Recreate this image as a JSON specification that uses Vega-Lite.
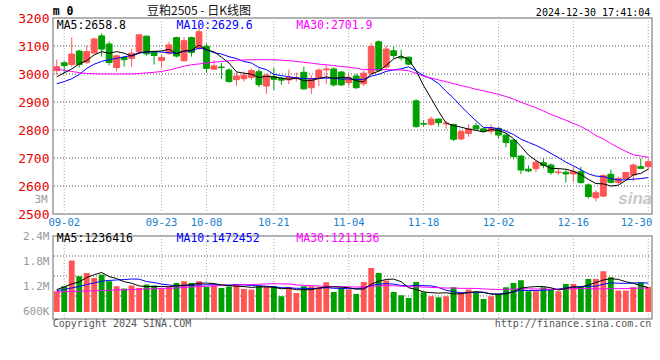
{
  "$schema": "https://vega.github.io/schema/vega-lite/v6.json",
  "autosize": {"type": "pad"},
  "padding": {"left": 16, "top": 4, "right": 0, "bottom": 0},
  "background": "white",
  "bounds": "flush",
  "spacing": 22,
  "config": {"view": {"stroke": "#9a9a9a", "strokeWidth": 1.5}, "font": "DejaVu Sans Mono", "axis": {"labelOverlap": false, "labelFlush": false}},
  "resolve": {"scale": {"x": "independent", "y": "independent"}},
  "datasets": {
    "k": [
      {"d":"08-30","o":3012,"h":3052,"l":2997,"c":3026,"v":1091000,"m5":2990,"m10":2965,"m30":3017,"vm5":1131000,"vm10":1107000,"vm30":1074000},
      {"d":"09-02","o":3040,"h":3046,"l":3002,"c":3030,"v":1209000,"m5":3004,"m10":2973,"m30":3013,"vm5":1193000,"vm10":1133000,"vm30":1079000},
      {"d":"09-03","o":3034,"h":3131,"l":3026,"c":3071,"v":1818000,"m5":3018,"m10":2983,"m30":3009,"vm5":1264000,"vm10":1169000,"vm30":1086000},
      {"d":"09-04","o":3082,"h":3086,"l":3023,"c":3034,"v":1446000,"m5":3036,"m10":2998,"m30":3005,"vm5":1311000,"vm10":1204000,"vm30":1091000},
      {"d":"09-05","o":3042,"h":3102,"l":3036,"c":3080,"v":1524000,"m5":3048.2,"m10":3020,"m30":3002,"vm5":1418000,"vm10":1249000,"vm30":1098000},
      {"d":"09-06","o":3075,"h":3130,"l":3072,"c":3125,"v":1406000,"m5":3068,"m10":3035,"m30":3001,"vm5":1481000,"vm10":1287000,"vm30":1102000},
      {"d":"09-09","o":3136,"h":3146,"l":3062,"c":3089,"v":1486000,"m5":3079.8,"m10":3045,"m30":3000,"vm5":1536000,"vm10":1328000,"vm30":1107000},
      {"d":"09-10","o":3107,"h":3117,"l":3031,"c":3041,"v":1328000,"m5":3073.8,"m10":3051,"m30":3000,"vm5":1438000,"vm10":1347000,"vm30":1114000},
      {"d":"09-11","o":3023,"h":3069,"l":3010,"c":3065,"v":1209000,"m5":3080,"m10":3056,"m30":3000,"vm5":1391000,"vm10":1358000,"vm30":1121000},
      {"d":"09-12","o":3059,"h":3064,"l":3026,"c":3051,"v":1155000,"m5":3074.2,"m10":3061.2,"m30":3000,"vm5":1317000,"vm10":1367000,"vm30":1126000},
      {"d":"09-13","o":3056,"h":3089,"l":3026,"c":3074,"v":1226000,"m5":3064,"m10":3066,"m30":3000,"vm5":1281000,"vm10":1381000,"vm30":1131000},
      {"d":"09-18","o":3080,"h":3142,"l":3077,"c":3140,"v":1169000,"m5":3074.2,"m10":3077,"m30":3002,"vm5":1217000,"vm10":1377000,"vm30":1138000},
      {"d":"09-19","o":3135,"h":3137,"l":3065,"c":3072,"v":1249000,"m5":3080.4,"m10":3077.1,"m30":3004,"vm5":1202000,"vm10":1320000,"vm30":1145000},
      {"d":"09-20","o":3080,"h":3083,"l":3034,"c":3066,"v":1226000,"m5":3080.6,"m10":3080.3,"m30":3006,"vm5":1205000,"vm10":1298000,"vm30":1150000},
      {"d":"09-23","o":3048,"h":3068,"l":3022,"c":3059,"v":1155000,"m5":3082.2,"m10":3078.2,"m30":3009,"vm5":1205000,"vm10":1261000,"vm30":1157000},
      {"d":"09-24","o":3074,"h":3115,"l":3068,"c":3104,"v":1185000,"m5":3088.2,"m10":3076.1,"m30":3014,"vm5":1197000,"vm10":1239000,"vm30":1162000},
      {"d":"09-25","o":3130,"h":3133,"l":3059,"c":3064,"v":1287000,"m5":3073,"m10":3073.6,"m30":3021,"vm5":1220000,"vm10":1219000,"vm30":1169000},
      {"d":"09-26","o":3047,"h":3131,"l":3045,"c":3119,"v":1328000,"m5":3082.4,"m10":3081.4,"m30":3028,"vm5":1236000,"vm10":1219000,"vm30":1181000},
      {"d":"09-27","o":3130,"h":3133,"l":3062,"c":3077,"v":1287000,"m5":3084.6,"m10":3082.6,"m30":3033,"vm5":1248000,"vm10":1227000,"vm30":1193000},
      {"d":"09-30","o":3092,"h":3175,"l":3086,"c":3151,"v":1328000,"m5":3103,"m10":3092.6,"m30":3036,"vm5":1283000,"vm10":1244000,"vm30":1200000},
      {"d":"10-08","o":3099,"h":3109,"l":3005,"c":3020,"v":1193000,"m5":3086.2,"m10":3087.2,"m30":3039,"vm5":1284000,"vm10":1241000,"vm30":1209000},
      {"d":"10-09","o":3017,"h":3050,"l":3016,"c":3029,"v":1226000,"m5":3079.2,"m10":3076.1,"m30":3042,"vm5":1272000,"vm10":1246000,"vm30":1216000},
      {"d":"10-10","o":3025,"h":3040,"l":2982,"c":3023,"v":1169000,"m5":3060,"m10":3071.2,"m30":3045,"vm5":1240000,"vm10":1238000,"vm30":1226000},
      {"d":"10-11","o":3014,"h":3020,"l":2969,"c":2973,"v":1202000,"m5":3039.2,"m10":3061.9,"m30":3047,"vm5":1223000,"vm10":1236000,"vm30":1233000},
      {"d":"10-14","o":2980,"h":3006,"l":2958,"c":2993,"v":1264000,"m5":3007.6,"m10":3055.3,"m30":3049,"vm5":1211000,"vm10":1247000,"vm30":1240000},
      {"d":"10-15","o":2983,"h":3009,"l":2973,"c":2996,"v":1145000,"m5":3002.8,"m10":3044.5,"m30":3050,"vm5":1201000,"vm10":1243000,"vm30":1245000},
      {"d":"10-16","o":2988,"h":3020,"l":2979,"c":3012,"v":1131000,"m5":2999.4,"m10":3039.3,"m30":3051,"vm5":1182000,"vm10":1227000,"vm30":1252000},
      {"d":"10-17","o":3008,"h":3019,"l":2953,"c":2962,"v":1226000,"m5":2987.2,"m10":3023.6,"m30":3051,"vm5":1193000,"vm10":1217000,"vm30":1256000},
      {"d":"10-18","o":2957,"h":3002,"l":2929,"c":2996,"v":1209000,"m5":2991.8,"m10":3015.5,"m30":3051,"vm5":1195000,"vm10":1209000,"vm30":1264000},
      {"d":"10-21","o":2990,"h":3022,"l":2943,"c":2981,"v":1209000,"m5":2989.4,"m10":2998.5,"m30":3050.8,"vm5":1184000,"vm10":1197000,"vm30":1270000},
      {"d":"10-22","o":2984,"h":2990,"l":2961,"c":2978,"v":972000,"m5":2985.8,"m10":2994.3,"m30":3049.2,"vm5":1149000,"vm10":1175000,"vm30":1265000},
      {"d":"10-23","o":2979,"h":3016,"l":2964,"c":2988,"v":1193000,"m5":2981,"m10":2990.2,"m30":3047.8,"vm5":1162000,"vm10":1172000,"vm30":1265000},
      {"d":"10-24","o":2983,"h":3005,"l":2973,"c":2986,"v":1050000,"m5":2985.8,"m10":2986.5,"m30":3044.9,"vm5":1127000,"vm10":1160000,"vm30":1239000},
      {"d":"10-25","o":3006,"h":3026,"l":2943,"c":2947,"v":1209000,"m5":2976,"m10":2983.9,"m30":3042,"vm5":1127000,"vm10":1161000,"vm30":1231000},
      {"d":"10-28","o":2951,"h":2996,"l":2929,"c":2984,"v":1209000,"m5":2976.6,"m10":2983,"m30":3038.8,"vm5":1127000,"vm10":1155000,"vm30":1221000},
      {"d":"10-29","o":2984,"h":3020,"l":2957,"c":3014,"v":1185000,"m5":2983.8,"m10":2984.8,"m30":3035.1,"vm5":1169000,"vm10":1159000,"vm30":1214000},
      {"d":"10-30","o":3015,"h":3032,"l":2964,"c":3018,"v":1304000,"m5":2989.8,"m10":2985.4,"m30":3032.8,"vm5":1192000,"vm10":1177000,"vm30":1207000},
      {"d":"10-31","o":3018,"h":3024,"l":2955,"c":2961,"v":1074000,"m5":2984.8,"m10":2985.3,"m30":3030.1,"vm5":1196000,"vm10":1161000,"vm30":1199000},
      {"d":"11-01","o":3007,"h":3011,"l":2957,"c":2961,"v":1169000,"m5":2987.6,"m10":2981.8,"m30":3026.6,"vm5":1188000,"vm10":1157000,"vm30":1198000},
      {"d":"11-04","o":2969,"h":3002,"l":2955,"c":2986,"v":1131000,"m5":2988,"m10":2982.3,"m30":3024.5,"vm5":1173000,"vm10":1150000,"vm30":1197000},
      {"d":"11-05","o":2993,"h":3000,"l":2946,"c":2951,"v":1027000,"m5":2975.4,"m10":2979.6,"m30":3020.4,"vm5":1141000,"vm10":1155000,"vm30":1190000},
      {"d":"11-06","o":2965,"h":3012,"l":2958,"c":3003,"v":1311000,"m5":2972.4,"m10":2981.1,"m30":3015.8,"vm5":1142000,"vm10":1167000,"vm30":1195000},
      {"d":"11-07","o":3003,"h":3110,"l":3000,"c":3098,"v":1643000,"m5":2999.8,"m10":2992.3,"m30":3016.7,"vm5":1256000,"vm10":1226000,"vm30":1208000},
      {"d":"11-08","o":3115,"h":3120,"l":3008,"c":3012,"v":1524000,"m5":3010,"m10":2998.8,"m30":3014.9,"vm5":1327000,"vm10":1258000,"vm30":1218000},
      {"d":"11-11","o":3025,"h":3100,"l":3018,"c":3089,"v":1344000,"m5":3030.6,"m10":3009.3,"m30":3015.9,"vm5":1370000,"vm10":1271000,"vm30":1225000},
      {"d":"11-12","o":3083,"h":3098,"l":3055,"c":3066,"v":1074000,"m5":3053.6,"m10":3014.5,"m30":3014.6,"vm5":1379000,"vm10":1260000,"vm30":1221000},
      {"d":"11-13","o":3059,"h":3087,"l":3048,"c":3057,"v":996000,"m5":3064.4,"m10":3018.4,"m30":3014.4,"vm5":1316000,"vm10":1229000,"vm30":1211000},
      {"d":"11-14","o":3060,"h":3062,"l":3032,"c":3035,"v":932000,"m5":3051.8,"m10":3025.8,"m30":3011.6,"vm5":1174000,"vm10":1215000,"vm30":1198000},
      {"d":"11-15","o":2904,"h":2910,"l":2808,"c":2812,"v":1311000,"m5":3011.8,"m10":3010.9,"m30":3002.7,"vm5":1131000,"vm10":1229000,"vm30":1199000},
      {"d":"11-18","o":2823,"h":2836,"l":2812,"c":2821,"v":1067000,"m5":2958.2,"m10":2994.4,"m30":2991.7,"vm5":1076000,"vm10":1223000,"vm30":1190000},
      {"d":"11-19","o":2820,"h":2848,"l":2815,"c":2839,"v":972000,"m5":2912.8,"m10":2983.2,"m30":2985.7,"vm5":1056000,"vm10":1217000,"vm30":1183000},
      {"d":"11-20","o":2839,"h":2842,"l":2812,"c":2826,"v":948000,"m5":2866.6,"m10":2965.5,"m30":2978.9,"vm5":1046000,"vm10":1181000,"vm30":1173000},
      {"d":"11-21","o":2822,"h":2833,"l":2804,"c":2825,"v":972000,"m5":2824.6,"m10":2938.2,"m30":2972.3,"vm5":1054000,"vm10":1114000,"vm30":1167000},
      {"d":"11-22","o":2820,"h":2822,"l":2760,"c":2767,"v":1185000,"m5":2815.6,"m10":2913.7,"m30":2965.5,"vm5":1029000,"vm10":1080000,"vm30":1166000},
      {"d":"11-25","o":2768,"h":2800,"l":2764,"c":2794,"v":1067000,"m5":2810.2,"m10":2884.2,"m30":2958.8,"vm5":1029000,"vm10":1052000,"vm30":1160000},
      {"d":"11-26","o":2788,"h":2821,"l":2776,"c":2804,"v":1131000,"m5":2803.2,"m10":2858,"m30":2952.4,"vm5":1061000,"vm10":1058000,"vm30":1159000},
      {"d":"11-27","o":2815,"h":2826,"l":2802,"c":2804,"v":1050000,"m5":2798.8,"m10":2832.7,"m30":2945.5,"vm5":1081000,"vm10":1064000,"vm30":1157000},
      {"d":"11-28","o":2804,"h":2806,"l":2794,"c":2796,"v":908000,"m5":2793,"m10":2808.8,"m30":2940,"vm5":1068000,"vm10":1061000,"vm30":1146000},
      {"d":"11-29","o":2796,"h":2820,"l":2785,"c":2808,"v":972000,"m5":2801.2,"m10":2808.4,"m30":2933.7,"vm5":1026000,"vm10":1027000,"vm30":1138000},
      {"d":"12-02","o":2806,"h":2810,"l":2770,"c":2782,"v":1027000,"m5":2798.8,"m10":2804.5,"m30":2927.1,"vm5":1018000,"vm10":1023000,"vm30":1132000},
      {"d":"12-03","o":2782,"h":2788,"l":2738,"c":2755,"v":1185000,"m5":2789,"m10":2796.1,"m30":2919.6,"vm5":1029000,"vm10":1045000,"vm30":1139000},
      {"d":"12-04","o":2764,"h":2767,"l":2695,"c":2705,"v":1287000,"m5":2769.2,"m10":2784,"m30":2910.2,"vm5":1076000,"vm10":1079000,"vm30":1142000},
      {"d":"12-05","o":2707,"h":2710,"l":2643,"c":2657,"v":1351000,"m5":2741.4,"m10":2767.2,"m30":2899.2,"vm5":1165000,"vm10":1116000,"vm30":1152000},
      {"d":"12-06","o":2660,"h":2673,"l":2649,"c":2654,"v":1091000,"m5":2710.6,"m10":2755.9,"m30":2889.5,"vm5":1188000,"vm10":1107000,"vm30":1148000},
      {"d":"12-09","o":2662,"h":2693,"l":2649,"c":2685,"v":1091000,"m5":2691.2,"m10":2745,"m30":2879.5,"vm5":1201000,"vm10":1109000,"vm30":1144000},
      {"d":"12-10","o":2683,"h":2698,"l":2663,"c":2673,"v":1185000,"m5":2674.8,"m10":2731.9,"m30":2868.1,"vm5":1201000,"vm10":1115000,"vm30":1144000},
      {"d":"12-11","o":2675,"h":2680,"l":2640,"c":2648,"v":1145000,"m5":2663.4,"m10":2716.3,"m30":2855.8,"vm5":1173000,"vm10":1124000,"vm30":1139000},
      {"d":"12-12","o":2648,"h":2663,"l":2640,"c":2650,"v":1091000,"m5":2662,"m10":2701.7,"m30":2845.4,"vm5":1120000,"vm10":1143000,"vm30":1140000},
      {"d":"12-13","o":2649,"h":2657,"l":2612,"c":2643,"v":1264000,"m5":2659.8,"m10":2685.2,"m30":2834.8,"vm5":1155000,"vm10":1172000,"vm30":1143000},
      {"d":"12-16","o":2643,"h":2669,"l":2615,"c":2651,"v":1264000,"m5":2653,"m10":2672.1,"m30":2823.7,"vm5":1190000,"vm10":1195000,"vm30":1147000},
      {"d":"12-17","o":2651,"h":2669,"l":2609,"c":2612,"v":1193000,"m5":2640.8,"m10":2657.8,"m30":2812.4,"vm5":1191000,"vm10":1196000,"vm30":1153000},
      {"d":"12-18","o":2604,"h":2609,"l":2556,"c":2562,"v":1382000,"m5":2623.6,"m10":2643.5,"m30":2797.7,"vm5":1238000,"vm10":1206000,"vm30":1155000},
      {"d":"12-19","o":2558,"h":2586,"l":2545,"c":2576,"v":1382000,"m5":2608.8,"m10":2635.4,"m30":2780.3,"vm5":1297000,"vm10":1209000,"vm30":1146000},
      {"d":"12-20","o":2564,"h":2642,"l":2560,"c":2637,"v":1565000,"m5":2607.6,"m10":2633.7,"m30":2767.8,"vm5":1357000,"vm10":1256000,"vm30":1148000},
      {"d":"12-23","o":2642,"h":2659,"l":2609,"c":2613,"v":1422000,"m5":2600,"m10":2626.5,"m30":2751.9,"vm5":1389000,"vm10":1289000,"vm30":1150000},
      {"d":"12-24","o":2613,"h":2633,"l":2607,"c":2627,"v":1107000,"m5":2603,"m10":2621.9,"m30":2737.3,"vm5":1372000,"vm10":1281000,"vm30":1152000},
      {"d":"12-25","o":2627,"h":2651,"l":2624,"c":2648,"v":1107000,"m5":2620.2,"m10":2621.9,"m30":2723.6,"vm5":1317000,"vm10":1278000,"vm30":1155000},
      {"d":"12-26","o":2639,"h":2681,"l":2617,"c":2675,"v":1185000,"m5":2640,"m10":2624.4,"m30":2711.6,"vm5":1277000,"vm10":1287000,"vm30":1164000},
      {"d":"12-27","o":2669,"h":2699,"l":2661,"c":2663,"v":1304000,"m5":2645.2,"m10":2626.4,"m30":2706.7,"vm5":1225000,"vm10":1291000,"vm30":1163000},
      {"d":"12-30","o":2669,"h":2695,"l":2657,"c":2687,"v":1193000,"m5":2660,"m10":2630,"m30":2702.2,"vm5":1179000,"vm10":1284000,"vm30":1168000}
    ]
  },
  "vconcat": [
    {
      "width": 599,
      "height": 196,
      "data": {"name": "k"},
      "resolve": {"axis": {"y": "independent"}},
      "layer": [
        {
          "mark": {"type": "rule", "color": "#aaaaaa", "strokeDash": [1, 2], "strokeWidth": 1},
          "encoding": {
            "x": {
              "field": "d", "type": "ordinal", "sort": null,
              "scale": {"type": "band", "paddingInner": 0, "paddingOuter": 0},
              "axis": {
                "values": ["09-02","09-23","10-08","10-21","11-04","11-18","12-02","12-16","12-30"],
                "title": null, "grid": false, "bandPosition": 0.5,
                "ticks": false, "domain": false, "labelAngle": 0, "labelColor": "#1580d0",
                "labelFont": "DejaVu Sans Mono", "labelFontSize": 10.5, "labelPadding": 3, "labelOverlap": false,
                "labelAlign": {"condition": {"test": "datum.value === '12-30'", "value": "right"}, "value": "center"},
                "labelOffset": {"condition": {"test": "datum.value === '12-30'", "value": 4}, "value": 0}
              }
            },
            "opacity": {"condition": {"test": "indexof(['09-02','09-23','10-08','10-21','11-04','11-18','12-02','12-16','12-30'], datum.d) >= 0", "value": 1}, "value": 0}
          }
        },
        {"mark": {"type": "rule", "color": "#aaaaaa", "strokeDash": [1, 2], "strokeWidth": 1}, "encoding": {"y": {"datum": 2600, "axis": null}}},
        {"mark": {"type": "rule", "color": "#aaaaaa", "strokeDash": [1, 2], "strokeWidth": 1}, "encoding": {"y": {"datum": 2700, "axis": null}}},
        {"mark": {"type": "rule", "color": "#aaaaaa", "strokeDash": [1, 2], "strokeWidth": 1}, "encoding": {"y": {"datum": 2800, "axis": null}}},
        {"mark": {"type": "rule", "color": "#aaaaaa", "strokeDash": [1, 2], "strokeWidth": 1}, "encoding": {"y": {"datum": 2900, "axis": null}}},
        {"mark": {"type": "rule", "color": "#aaaaaa", "strokeDash": [1, 2], "strokeWidth": 1}, "encoding": {"y": {"datum": 3000, "axis": null}}},
        {"mark": {"type": "rule", "color": "#aaaaaa", "strokeDash": [1, 2], "strokeWidth": 1}, "encoding": {"y": {"datum": 3100, "axis": null}}},
        {
          "mark": {"type": "rule", "strokeWidth": 1},
          "encoding": {
            "x": {"field": "d", "type": "ordinal", "sort": null},
            "y": {"field": "l", "type": "quantitative", "scale": {"domain": [2500, 3200], "zero": false, "nice": false},
              "axis": {"values": [2500,2600,2700,2800,2900,3000,3100,3200], "format": "d", "title": null, "grid": false, "ticks": false, "domain": false, "labelColor": "#e60000", "labelFont": "DejaVu Sans Mono", "labelFontSize": 13, "labelPadding": 4, "labelOverlap": false}},
            "y2": {"field": "h"},
            "color": {"condition": {"test": "datum.c >= datum.o", "value": "#ff5555"}, "value": "#009f00"}
          }
        },
        {
          "mark": {"type": "bar", "width": {"band": 0.78}, "strokeWidth": 1},
          "encoding": {
            "x": {"field": "d", "type": "ordinal", "sort": null},
            "y": {"field": "o", "type": "quantitative", "axis": null},
            "y2": {"field": "c"},
            "fill": {"condition": {"test": "datum.c >= datum.o", "value": "#ff5555"}, "value": "#009f00"},
            "stroke": {"condition": {"test": "datum.c >= datum.o", "value": "#ff5555"}, "value": "#009f00"}
          }
        },
        {"mark": {"type": "line", "color": "#0000ff", "strokeWidth": 1}, "encoding": {"x": {"field": "d", "type": "ordinal", "sort": null}, "y": {"field": "m10", "type": "quantitative", "axis": null}}},
        {"mark": {"type": "line", "color": "#ff00ff", "strokeWidth": 1}, "encoding": {"x": {"field": "d", "type": "ordinal", "sort": null}, "y": {"field": "m30", "type": "quantitative", "axis": null}}},
        {"mark": {"type": "line", "color": "#000000", "strokeWidth": 1}, "encoding": {"x": {"field": "d", "type": "ordinal", "sort": null}, "y": {"field": "m5", "type": "quantitative", "axis": null}}},
        {"data": {"values": [{}]}, "mark": {"type": "text", "font": "DejaVu Sans Mono", "fontSize": 11.5, "align": "left", "baseline": "middle", "color": "#000000"},
          "encoding": {"x": {"datum": "08-30"}, "y": {"datum": 3173, "axis": null}, "text": {"value": "MA5:2658.8"}}},
        {"data": {"values": [{}]}, "mark": {"type": "text", "font": "DejaVu Sans Mono", "fontSize": 11.5, "align": "left", "baseline": "middle", "color": "#0000ff"},
          "encoding": {"x": {"datum": "09-25"}, "y": {"datum": 3173, "axis": null}, "text": {"value": "MA10:2629.6"}}},
        {"data": {"values": [{}]}, "mark": {"type": "text", "font": "DejaVu Sans Mono", "fontSize": 11.5, "align": "left", "baseline": "middle", "color": "#ff00ff"},
          "encoding": {"x": {"datum": "10-24"}, "y": {"datum": 3173, "axis": null}, "text": {"value": "MA30:2701.9"}}},
        {"data": {"values": [{}]}, "mark": {"type": "text", "font": "DejaVu Sans Mono", "fontSize": 11.5, "fontWeight": "bold", "align": "left", "baseline": "middle", "color": "#000000", "dx": -4},
          "encoding": {"x": {"datum": "08-30"}, "y": {"datum": 3223, "axis": null}, "text": {"value": "m 0"}}},
        {"data": {"values": [{}]}, "mark": {"type": "text", "font": "Noto Sans CJK SC", "fontSize": 12, "align": "center", "baseline": "middle", "color": "#111111"},
          "encoding": {"x": {"datum": "09-30"}, "y": {"datum": 3225, "axis": null}, "text": {"value": "豆粕2505 - 日K线图"}}},
        {"data": {"values": [{}]}, "mark": {"type": "text", "font": "DejaVu Sans Mono", "fontSize": 10, "align": "right", "baseline": "middle", "color": "#000000", "dx": 2},
          "encoding": {"x": {"datum": "12-30"}, "y": {"datum": 3218, "axis": null}, "text": {"value": "2024-12-30 17:41:04"}}},
        {"data": {"values": [{}]}, "mark": {"type": "text", "font": "DejaVu Sans Mono", "fontSize": 11, "align": "right", "baseline": "middle", "color": "#9a9a9a", "dx": -9},
          "encoding": {"x": {"datum": "08-30"}, "y": {"datum": 2550, "axis": null}, "text": {"value": "3M"}}},
        {"data": {"values": [{}]}, "mark": {"type": "text", "font": "Liberation Sans", "fontSize": 17, "fontStyle": "italic", "fontWeight": "bold", "align": "right", "baseline": "middle", "color": "#c8c8c8", "dx": 4},
          "encoding": {"x": {"datum": "12-30"}, "y": {"datum": 2553, "axis": null}, "text": {"value": "sina"}}}
      ]
    },
    {
      "width": 599,
      "height": 83,
      "data": {"name": "k"},
      "resolve": {"axis": {"y": "independent"}},
      "layer": [
        {
          "mark": {"type": "rule", "color": "#aaaaaa", "strokeDash": [1, 2], "strokeWidth": 1},
          "encoding": {
            "x": {
              "field": "d", "type": "ordinal", "sort": null,
              "scale": {"type": "band", "paddingInner": 0, "paddingOuter": 0},
              "axis": {"values": ["09-02"], "title": null, "grid": false, "ticks": false, "domain": false, "labels": false}
            },
            "opacity": {"condition": {"test": "indexof(['09-02','09-23','10-08','10-21','11-04','11-18','12-02','12-16','12-30'], datum.d) >= 0", "value": 1}, "value": 0}
          }
        },
        {"mark": {"type": "rule", "color": "#aaaaaa", "strokeDash": [1, 2], "strokeWidth": 1}, "encoding": {"y": {"datum": 978000, "axis": null}}},
        {"mark": {"type": "rule", "color": "#aaaaaa", "strokeDash": [1, 2], "strokeWidth": 1}, "encoding": {"y": {"datum": 1452000, "axis": null}}},
        {"mark": {"type": "rule", "color": "#aaaaaa", "strokeDash": [1, 2], "strokeWidth": 1}, "encoding": {"y": {"datum": 1926000, "axis": null}}},
        {
          "mark": {"type": "bar", "width": {"band": 0.78}},
          "encoding": {
            "x": {"field": "d", "type": "ordinal", "sort": null},
            "y": {"field": "v", "type": "quantitative", "scale": {"domain": [433000, 2400000], "zero": false, "nice": false},
              "axis": {"values": [600000, 1200000, 1800000, 2400000], "title": null, "grid": false,
                "ticks": false, "domain": false,
                "labelExpr": "datum.value >= 1000000 ? format(datum.value / 1000000, '.1f') + 'M' : format(datum.value / 1000, 'd') + 'K'",
                "labelColor": "#9a9a9a", "labelFont": "DejaVu Sans Mono", "labelFontSize": 11, "labelPadding": 4, "labelOverlap": false}},
            "y2": {"datum": 600000},
            "color": {"condition": {"test": "datum.c >= datum.o", "value": "#ff5555"}, "value": "#009f00"}
          }
        },
        {"mark": {"type": "line", "color": "#0000ff", "strokeWidth": 1}, "encoding": {"x": {"field": "d", "type": "ordinal", "sort": null}, "y": {"field": "vm10", "type": "quantitative", "axis": null}}},
        {"mark": {"type": "line", "color": "#ff00ff", "strokeWidth": 1}, "encoding": {"x": {"field": "d", "type": "ordinal", "sort": null}, "y": {"field": "vm30", "type": "quantitative", "axis": null}}},
        {"mark": {"type": "line", "color": "#000000", "strokeWidth": 1}, "encoding": {"x": {"field": "d", "type": "ordinal", "sort": null}, "y": {"field": "vm5", "type": "quantitative", "axis": null}}},
        {"data": {"values": [{}]}, "mark": {"type": "text", "font": "DejaVu Sans Mono", "fontSize": 11.5, "align": "left", "baseline": "middle", "color": "#000000"},
          "encoding": {"x": {"datum": "08-30"}, "y": {"datum": 2322000, "axis": null}, "text": {"value": "MA5:1236416"}}},
        {"data": {"values": [{}]}, "mark": {"type": "text", "font": "DejaVu Sans Mono", "fontSize": 11.5, "align": "left", "baseline": "middle", "color": "#0000ff"},
          "encoding": {"x": {"datum": "09-25"}, "y": {"datum": 2322000, "axis": null}, "text": {"value": "MA10:1472452"}}},
        {"data": {"values": [{}]}, "mark": {"type": "text", "font": "DejaVu Sans Mono", "fontSize": 11.5, "align": "left", "baseline": "middle", "color": "#ff00ff"},
          "encoding": {"x": {"datum": "10-24"}, "y": {"datum": 2322000, "axis": null}, "text": {"value": "MA30:1211136"}}},
        {"data": {"values": [{}]}, "mark": {"type": "text", "font": "DejaVu Sans Mono", "fontSize": 10, "align": "left", "baseline": "middle", "color": "#555555", "dx": -4},
          "encoding": {"x": {"datum": "08-30"}, "y": {"datum": 314000, "axis": null}, "text": {"value": "Copyright 2024 SINA.COM"}}},
        {"data": {"values": [{}]}, "mark": {"type": "text", "font": "DejaVu Sans Mono", "fontSize": 10, "align": "right", "baseline": "middle", "color": "#555555", "dx": 3},
          "encoding": {"x": {"datum": "12-30"}, "y": {"datum": 314000, "axis": null}, "text": {"value": "http://finance.sina.com.cn"}}}
      ]
    }
  ]
}
